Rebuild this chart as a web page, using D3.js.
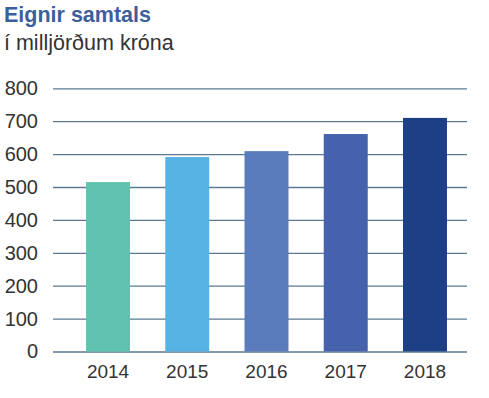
<!DOCTYPE html>
<html>
<head>
<meta charset="utf-8">
<script src="https://cdn.jsdelivr.net/npm/d3@7"></script>
<style>
  body { margin: 0; background: #fff; }
  svg text { font-family: "Liberation Sans", Arial, sans-serif; }
</style>
</head>
<body>
<div id="chart"></div>
<script>
// chart data
const years = ["2014", "2015", "2016", "2017", "2018"];
const assets = [515, 591, 609, 661, 710];
const yTicks = [0, 100, 200, 300, 400, 500, 600, 700, 800];
const barColors = ["#5fc3af", "#58b3e5", "#5a7cbd", "#4662ad", "#1d3f86"];

const width = 489, height = 398;

const svg = d3.select("#chart").append("svg")
  .attr("width", width)
  .attr("height", height);

// titles
svg.append("text")
  .attr("x", 4).attr("y", 22)
  .attr("font-size", 21.5).attr("font-weight", "bold")
  .attr("fill", "#3b5f9d")
  .text("Eignir samtals");

svg.append("text")
  .attr("x", 4).attr("y", 50)
  .attr("font-size", 21.5)
  .attr("fill", "#333")
  .text("í milljörðum króna");

const y = d3.scaleLinear().domain([0, 800]).range([351.5, 88.3]);
const x = d3.scaleBand().domain(years).range([68.4, 464.6])
  .paddingInner(0.445).paddingOuter(0.2225);

// gridlines + y labels
const yAxis = svg.append("g").attr("transform", "translate(53,0)")
  .call(d3.axisLeft(y).tickValues(yTicks).tickSize(-414).tickPadding(15));
yAxis.select(".domain").remove();
yAxis.selectAll(".tick line").attr("stroke", "#5b7992").attr("stroke-width", 1.3);
yAxis.selectAll(".tick text")
  .attr("font-size", 20).attr("fill", "#333")
  .attr("font-family", "'Liberation Sans', Arial, sans-serif");

// bars
svg.selectAll("rect.bar")
  .data(assets)
  .enter().append("rect")
  .attr("class", "bar")
  .attr("x", (d, i) => x(years[i]))
  .attr("width", x.bandwidth())
  .attr("y", d => y(d))
  .attr("height", d => y(0) - y(d))
  .attr("fill", (d, i) => barColors[i]);

// x labels
const xAxis = svg.append("g").attr("transform", "translate(0,351.5)")
  .call(d3.axisBottom(x).tickSize(0).tickPadding(13));
xAxis.select(".domain").remove();
xAxis.selectAll(".tick text")
  .attr("font-size", 19).attr("fill", "#333")
  .attr("font-family", "'Liberation Sans Narrow', 'Arial Narrow', 'Liberation Sans', sans-serif");
</script>
</body>
</html>
